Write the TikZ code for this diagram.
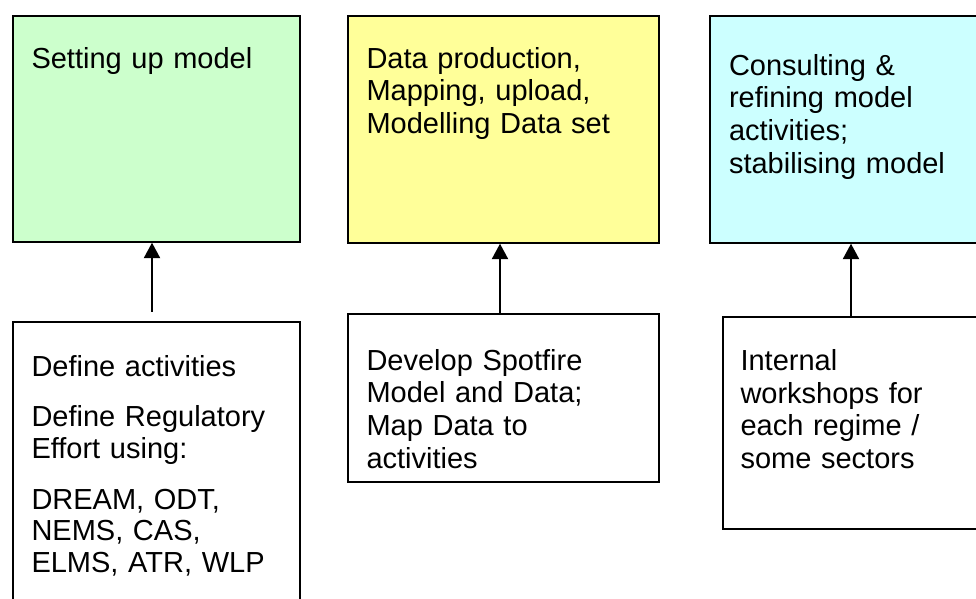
\documentclass[tikz,border=0pt]{standalone}
\usepackage{fontspec}
\setmainfont{Liberation Sans}
\usetikzlibrary{arrows.meta}

\tikzset{every picture/.style={line width=0.75pt}}

\begin{document}
\begin{tikzpicture}[x=0.75pt,y=0.75pt,yscale=-1,xscale=1,
  box/.style={draw={rgb, 255:red, 0; green, 0; blue, 0 }, line width=1.3pt, anchor=north west, inner sep=0pt},
  txt/.style={anchor=north west, inner sep=0pt, align=left, text width=#1, font=\fontsize{21.75pt}{24.5pt}\selectfont},
  up/.style={line width=1.5pt, -{Triangle[length=11.5pt,width=12pt]}}]
%set diagram left start at 0, width 976 and height 599
\useasboundingbox (0,0) rectangle (976,599);
\clip (0,0) rectangle (976,599);

%Shape: Rectangle
\node [box, fill={rgb, 255:red, 204; green, 255; blue, 204 }, minimum width=287*0.75pt, minimum height=226*0.75pt] (setup) at (12,15) {};
%Shape: Rectangle
\node [box, fill={rgb, 255:red, 255; green, 255; blue, 153 }, minimum width=311*0.75pt, minimum height=227*0.75pt] (data) at (347,15) {};
%Shape: Rectangle
\node [box, fill={rgb, 255:red, 204; green, 255; blue, 255 }, minimum width=320*0.75pt, minimum height=227*0.75pt] (consult) at (709,15) {};
%Shape: Rectangle
\node [box, fill=white, minimum width=287*0.75pt, minimum height=320*0.75pt] (define) at (12,321) {};
%Shape: Rectangle
\node [box, fill=white, minimum width=311*0.75pt, minimum height=168*0.75pt] (spotfire) at (347,313) {};
%Shape: Rectangle
\node [box, fill=white, minimum width=320*0.75pt, minimum height=212*0.75pt] (workshop) at (722,316) {};

% Text Node
\node [txt=240pt] (setuptxt) at (31,46.5) {Setting up model};
% Text Node
\node [txt=240pt] (datatxt) at (366,46.5) {Data production,\\Mapping, upload,\\Modelling Data set};
% Text Node
\node [txt=240pt] (consulttxt) at (728.5,53.5) {Consulting \&\\refining model\\activities;\\stabilising model};
% Text Node
\node [txt=240pt, font=\fontsize{21.75pt}{23.8pt}\selectfont] (definetxt) at (31,355) {Define activities\\[14pt]Define Regulatory\\Effort using:\\[14pt]DREAM, ODT,\\NEMS, CAS,\\ELMS, ATR, WLP};
% Text Node
\node [txt=240pt] (spotfiretxt) at (366,348.5) {Develop Spotfire\\Model and Data;\\Map Data to\\activities};
% Text Node
\node [txt=240pt] (workshoptxt) at (740,349) {Internal\\workshops for\\each regime /\\some sectors};

%Straight Lines
\coordinate (a1) at (152,312);
\draw [up] (a1) -- (a1 |- setup.south);
%Straight Lines
\coordinate (a2) at (500,0);
\draw [up] (spotfire.north -| a2) -- (data.south -| a2);
%Straight Lines
\coordinate (a3) at (851,0);
\draw [up] (workshop.north -| a3) -- (consult.south -| a3);

\end{tikzpicture}
\end{document}
